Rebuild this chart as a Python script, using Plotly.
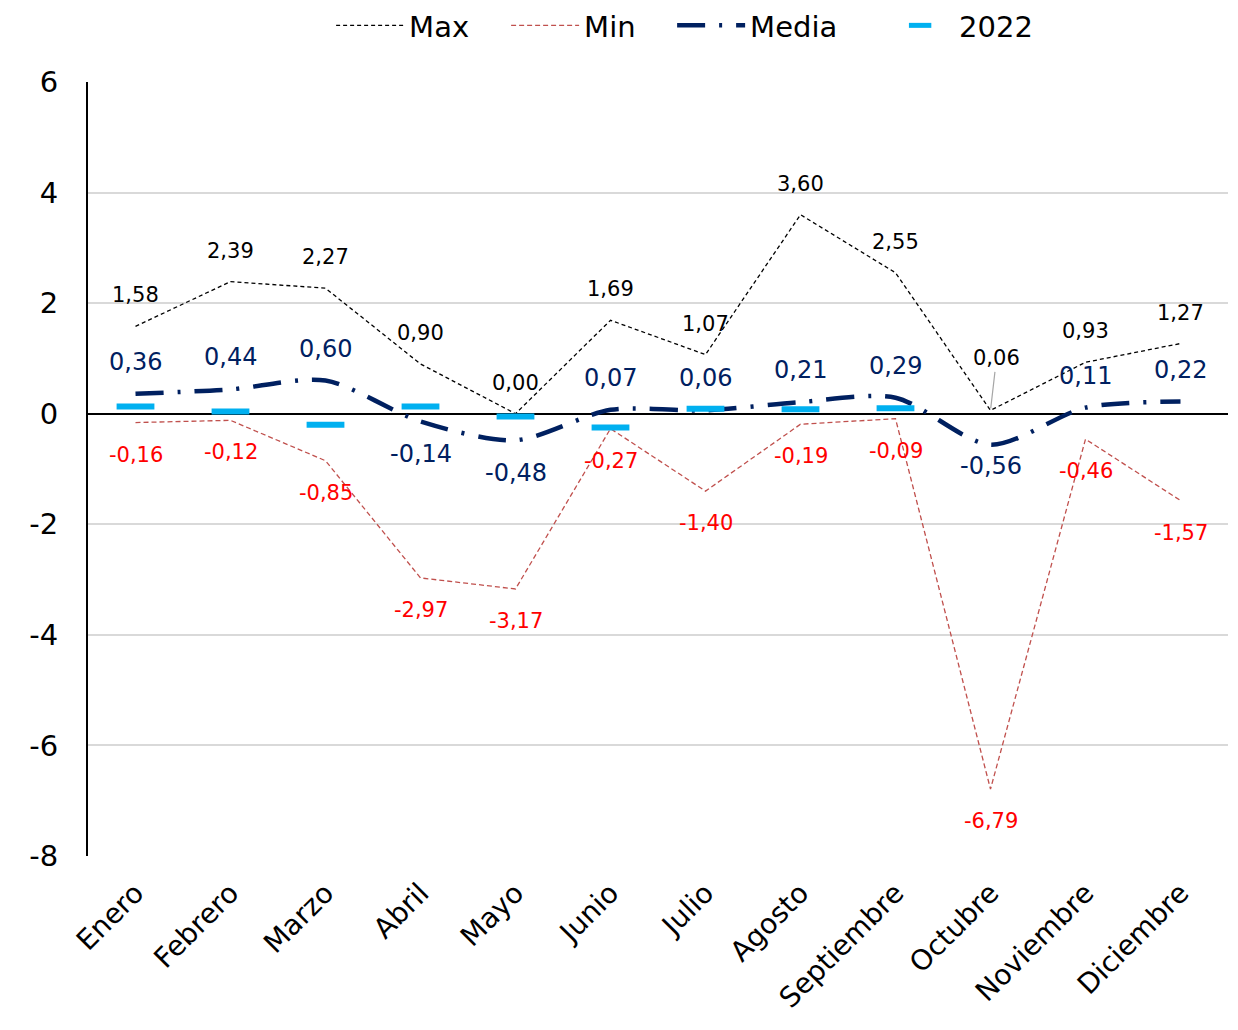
import plotly.graph_objects as go

categories = ["Enero", "Febrero", "Marzo", "Abril", "Mayo", "Junio", "Julio",
              "Agosto", "Septiembre", "Octubre", "Noviembre", "Diciembre"]
max_vals = [1.58, 2.39, 2.27, 0.90, 0.00, 1.69, 1.07, 3.60, 2.55, 0.06, 0.93, 1.27]
min_vals = [-0.16, -0.12, -0.85, -2.97, -3.17, -0.27, -1.40, -0.19, -0.09, -6.79, -0.46, -1.57]
media_vals = [0.36, 0.44, 0.60, -0.14, -0.48, 0.07, 0.06, 0.21, 0.29, -0.56, 0.11, 0.22]
y2022_vals = [0.13, 0.04, -0.20, 0.13, -0.05, -0.25, 0.09, 0.08, 0.10, None, None, None]
y_ticks = [-8, -6, -4, -2, 0, 2, 4, 6]

NAVY = "#002060"
CYAN = "#00B0F0"
MINC = "#C0504D"
FONT = "DejaVu Sans"

def fmt(v):
    return f"{v:.2f}".replace(".", ",")

fig = go.Figure()
fig.add_trace(go.Scatter(x=categories, y=max_vals, name="Max", mode="lines", legendwidth=92,
                         line=dict(color="black", width=1.3, dash="4px,3px")))
fig.add_trace(go.Scatter(x=categories, y=min_vals, name="Min", mode="lines", legendwidth=83,
                         line=dict(color=MINC, width=1.3, dash="5px,3px")))
fig.add_trace(go.Scatter(x=categories, y=media_vals, name="Media", mode="lines", legendwidth=126,
                         line=dict(color=NAVY, width=4.5, dash="28px,14px,3px,14px",
                                   shape="spline", smoothing=0.8)))
fig.add_trace(go.Scatter(x=categories, y=y2022_vals, name="2022", mode="markers", legendwidth=92,
                         marker=dict(symbol="line-ew", size=27,
                                     line=dict(color=CYAN, width=6), color=CYAN)))

ann = []
for i, c in enumerate(categories):
    # Max labels
    if c == "Octubre":
        ann.append(dict(x=c, y=max_vals[i], text=fmt(max_vals[i]), showarrow=True,
                        ax=6, ay=-52, arrowhead=0, arrowwidth=1.2, arrowcolor="#A6A6A6",
                        standoff=2, font=dict(family=FONT, size=21, color="black")))
    else:
        ann.append(dict(x=c, y=max_vals[i], text=fmt(max_vals[i]), showarrow=False,
                        yshift=31, font=dict(family=FONT, size=21, color="black")))
    # Min labels
    ann.append(dict(x=c, y=min_vals[i], text=fmt(min_vals[i]), showarrow=False,
                    yshift=-32, font=dict(family=FONT, size=21, color="#FF0000")))
    # Media labels
    v = media_vals[i]
    if v >= 0:
        ys = 32
    elif c == "Octubre":
        ys = -21
    else:
        ys = -33
    ann.append(dict(x=c, y=v, text=fmt(v), showarrow=False, yshift=ys,
                    font=dict(family=FONT, size=24, color=NAVY)))

fig.update_layout(
    width=1238, height=1030,
    margin=dict(l=80, r=18, t=74, b=182, autoexpand=False),
    plot_bgcolor="white", paper_bgcolor="white",
    font=dict(family=FONT, color="black"),
    annotations=ann,
    showlegend=True,
    legend=dict(orientation="h", x=0.261, xanchor="left", y=0.983, yanchor="middle",
                xref="container", yref="container",
                font=dict(family=FONT, size=29, color="black"), itemwidth=68,
                entrywidth=92, entrywidthmode="pixels",
                bgcolor="rgba(0,0,0,0)"),
    xaxis=dict(type="category", tickangle=-45, tickfont=dict(family=FONT, size=28),
               showgrid=False, showline=False, ticks="", zeroline=False,
               range=[-0.5, 11.5], automargin=False, ticklabelstandoff=14),
    yaxis=dict(range=[-8, 6], tickvals=y_ticks, ticktext=[str(t) for t in y_ticks],
               tickfont=dict(family=FONT, size=29), showgrid=True, gridcolor="#D9D9D9",
               gridwidth=1.5, zeroline=True, zerolinecolor="black", zerolinewidth=1.5,
               showline=True, linecolor="black", linewidth=2, ticks="", ticklen=0,
               automargin=False, ticklabelstandoff=22),
)

fig.write_html("out.html")
